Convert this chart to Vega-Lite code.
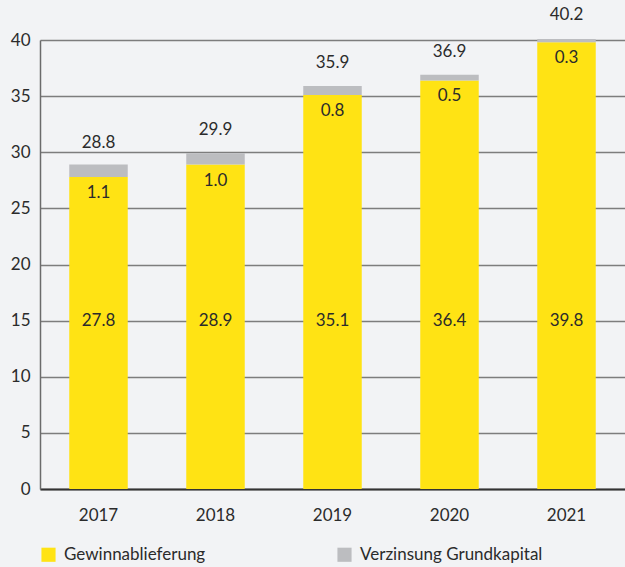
{
  "$schema": "https://vega.github.io/schema/vega-lite/v6.json",
  "width": 585,
  "height": 449,
  "autosize": {"type": "none"},
  "padding": {"left": 40, "top": 40, "right": 0, "bottom": 78},
  "background": "#f2f3f5",
  "config": {
    "view": {"stroke": null},
    "font": "Lato",
    "text": {"font": "Lato", "fontSize": 17, "color": "#2b2b2b"}
  },
  "data": {
    "values": [
      {"Jahr": "2017", "Gewinnablieferung": 27.8, "Verzinsung Grundkapital": 1.1, "Gesamt": 28.8},
      {"Jahr": "2018", "Gewinnablieferung": 28.9, "Verzinsung Grundkapital": 1.0, "Gesamt": 29.9},
      {"Jahr": "2019", "Gewinnablieferung": 35.1, "Verzinsung Grundkapital": 0.8, "Gesamt": 35.9},
      {"Jahr": "2020", "Gewinnablieferung": 36.4, "Verzinsung Grundkapital": 0.5, "Gesamt": 36.9},
      {"Jahr": "2021", "Gewinnablieferung": 39.8, "Verzinsung Grundkapital": 0.3, "Gesamt": 40.2}
    ]
  },
  "encoding": {
    "x": {
      "field": "Jahr", "type": "nominal",
      "scale": {"paddingInner": 0.5, "paddingOuter": 0.25},
      "axis": {
        "title": null, "labelAngle": 0, "ticks": false, "labelPadding": 18,
        "labelFontSize": 17, "labelColor": "#2b2b2b", "labelFont": "Lato",
        "domainColor": "#333333", "domainWidth": 2, "grid": false
      }
    }
  },
  "layer": [
    {
      "mark": {"type": "bar"},
      "transform": [{"fold": ["Gewinnablieferung", "Verzinsung Grundkapital"], "as": ["Art", "Wert"]}],
      "encoding": {
        "y": {
          "field": "Wert", "type": "quantitative", "stack": "zero",
          "scale": {"domain": [0, 40], "nice": false},
          "axis": {
            "title": null, "values": [0, 5, 10, 15, 20, 25, 30, 35, 40],
            "ticks": false, "labelPadding": 10, "labelFontSize": 17,
            "labelColor": "#2b2b2b", "labelFont": "Lato",
            "grid": true, "gridColor": "#7d7d7d", "gridWidth": 1.5,
            "domainColor": "#6b6b6b", "domainWidth": 1.5
          }
        },
        "order": {"field": "Art", "sort": "ascending"},
        "color": {
          "field": "Art", "type": "nominal",
          "scale": {"domain": ["Gewinnablieferung", "Verzinsung Grundkapital"], "range": ["#ffe314", "#bcbdc0"]},
          "legend": {
            "title": null, "orient": "none", "legendX": 0, "legendY": 506,
            "direction": "horizontal", "columns": 2, "columnPadding": 130,
            "symbolType": "square", "symbolSize": 200, "symbolStrokeWidth": 0,
            "symbolOpacity": 1, "labelFontSize": 17, "labelColor": "#2b2b2b",
            "labelFont": "Lato", "labelOffset": 7, "labelLimit": 300
          }
        }
      }
    },
    {
      "mark": {"type": "text", "baseline": "bottom", "dy": -14},
      "encoding": {
        "y": {"field": "Gesamt", "type": "quantitative"},
        "text": {"field": "Gesamt", "type": "quantitative", "format": ".1f"}
      }
    },
    {
      "mark": {"type": "text", "baseline": "top", "dy": 8},
      "encoding": {
        "y": {"field": "Gewinnablieferung", "type": "quantitative"},
        "text": {"field": "Verzinsung Grundkapital", "type": "quantitative", "format": ".1f"}
      }
    },
    {
      "mark": {"type": "text", "baseline": "middle"},
      "encoding": {
        "y": {"datum": 15},
        "text": {"field": "Gewinnablieferung", "type": "quantitative", "format": ".1f"}
      }
    }
  ]
}
